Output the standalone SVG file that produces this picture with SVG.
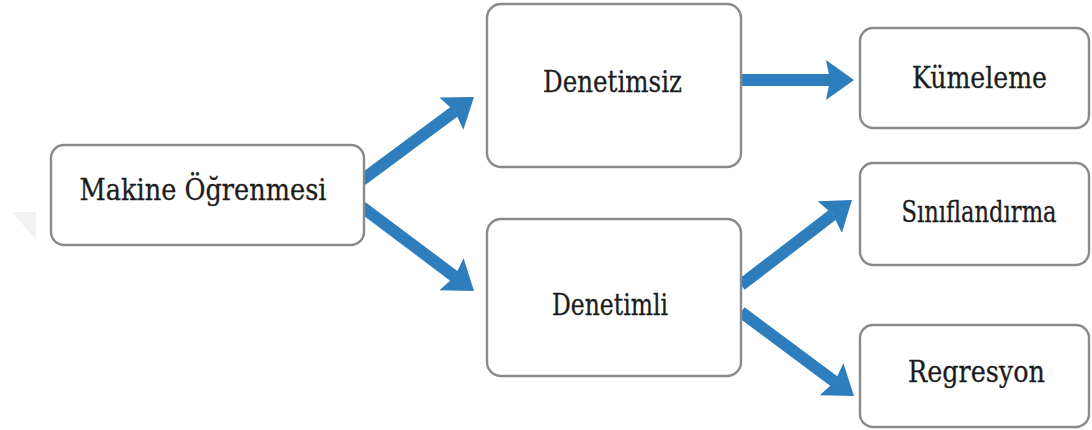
<svg xmlns="http://www.w3.org/2000/svg" width="1092" height="430" viewBox="0 0 1092 430">
<style>
.box{fill:#fff;stroke:#8a8a8a;stroke-width:2.4}
.lbl{font-family:"DejaVu Serif","Liberation Serif",serif;font-size:29px;fill:#1c1c1c;stroke:#1c1c1c;stroke-width:0.3;text-anchor:middle}
.arr{stroke:#2e7dbd;stroke-width:12;fill:none}
</style>
<defs>
<marker id="ah" markerUnits="userSpaceOnUse" markerWidth="28" markerHeight="40" refX="4" refY="20" orient="auto" viewBox="0 0 28 40">
<path d="M0,0 L28,20 L0,40 L4,20 Z" fill="#2e7dbd"/>
</marker>
</defs>
<rect width="1092" height="430" fill="#fff"/>
<polygon points="12,212 36,212 36,240" fill="#f2f2f2"/>
<g id="connectors">
<line class="arr" x1="362" y1="180" x2="454.7" y2="111.3" marker-end="url(#ah)"/>
<line class="arr" x1="362" y1="207" x2="454.8" y2="276.6" marker-end="url(#ah)"/>
<line class="arr" x1="741" y1="80" x2="830" y2="80" marker-end="url(#ah)"/>
<line class="arr" x1="741" y1="285" x2="832.9" y2="214.6" marker-end="url(#ah)"/>
<line class="arr" x1="741" y1="312" x2="834.7" y2="381.7" marker-end="url(#ah)"/>
</g>
<g id="n-makine">
<rect class="box" x="51" y="145" width="313" height="100" rx="13"/>
<text class="lbl" x="203" y="200" textLength="247" lengthAdjust="spacingAndGlyphs">Makine Öğrenmesi</text>
</g>
<g id="n-denetimsiz">
<rect class="box" x="487" y="4" width="254" height="163" rx="14"/>
<text class="lbl" x="612.5" y="92" textLength="139" lengthAdjust="spacingAndGlyphs">Denetimsiz</text>
</g>
<g id="n-denetimli">
<rect class="box" x="487" y="219" width="254" height="157" rx="14"/>
<text class="lbl" x="610" y="315" textLength="116" lengthAdjust="spacingAndGlyphs">Denetimli</text>
</g>
<g id="n-kumeleme">
<rect class="box" x="860" y="28" width="229" height="100" rx="13"/>
<text class="lbl" x="979.5" y="88" textLength="135" lengthAdjust="spacingAndGlyphs">Kümeleme</text>
</g>
<g id="n-siniflandirma">
<rect class="box" x="860" y="163" width="229" height="102" rx="13"/>
<text class="lbl" x="0" y="0" transform="translate(979,222) scale(0.78,1)">Sınıflandırma</text>
</g>
<g id="n-regresyon">
<rect class="box" x="860" y="325" width="229" height="102" rx="13"/>
<text class="lbl" x="976.5" y="382" textLength="137" lengthAdjust="spacingAndGlyphs">Regresyon</text>
</g>
</svg>
